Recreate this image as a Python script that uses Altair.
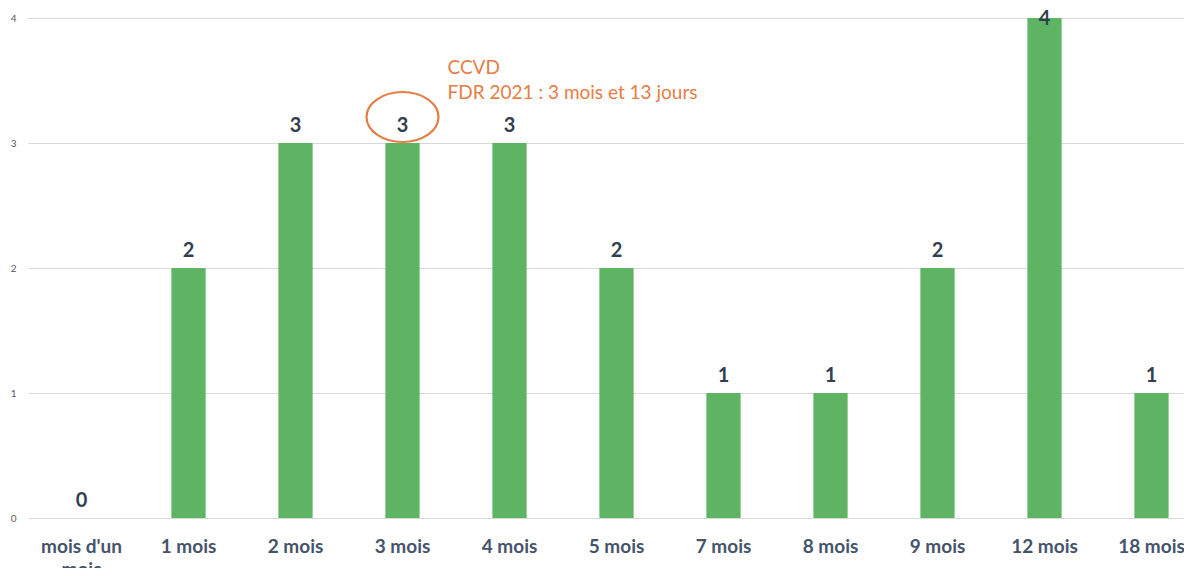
import altair as alt
import pandas as pd

categories = ["mois d'un mois", "1 mois", "2 mois", "3 mois", "4 mois", "5 mois",
              "7 mois", "8 mois", "9 mois", "12 mois", "18 mois"]
counts = [0, 2, 3, 3, 3, 2, 1, 1, 2, 4, 1]

note_category = ["3 mois"]
note_value = [3]
note_lines = ["CCVD", "FDR 2021 : 3 mois et 13 jours"]

df = pd.DataFrame({"cat": categories, "n": counts})
note_df = pd.DataFrame({"cat": note_category, "n": note_value})

GREEN = "#5fb463"
ORANGE = "#e57d45"
FONT = "Lato"
YMAX = 4

x_enc = alt.X(
    "cat:N", sort=categories, title=None,
    scale=alt.Scale(range=[0, 1177], paddingInner=0.68, paddingOuter=0.34),
    axis=alt.Axis(
        labelAngle=0, ticks=False, domain=False, grid=False,
        labelFont=FONT, labelFontSize=19, labelFontWeight="bold",
        labelColor="#44546a", labelPadding=19, labelLineHeight=23,
        labelExpr="datum.value == \"mois d'un mois\" ? [\"mois d'un\", \"mois\"] : datum.label",
    ),
)
y_scale = alt.Scale(domain=[0, YMAX], nice=False)
y_enc = alt.Y(
    "n:Q", title=None, scale=y_scale,
    axis=alt.Axis(
        values=[0, 1, 2, 3, 4], format="d", ticks=False, domain=False, grid=True,
        gridColor="#d9d9d9", gridWidth=1,
        labelFont=FONT, labelFontSize=10, labelColor="#595959", labelPadding=12,
    ),
)

bars = alt.Chart(df).mark_bar(color=GREEN).encode(x=x_enc, y=y_enc)

labels = alt.Chart(df).transform_calculate(
    ly=f"datum.n >= {YMAX} ? datum.n - 0.14 : datum.n"
).mark_text(
    font=FONT, fontSize=20, fontWeight="bold", color="#333f50",
    baseline="bottom", dy=-7,
).encode(
    x=alt.X("cat:N", sort=categories),
    y=alt.Y("ly:Q", scale=y_scale),
    text=alt.Text("n:Q"),
)

ellipse = alt.Chart(note_df).mark_point(
    shape="M -1.44 0 A 1.44 1 0 1 0 1.44 0 A 1.44 1 0 1 0 -1.44 0 Z",
    size=2500, filled=False, stroke=ORANGE, strokeWidth=2.2, opacity=1,
).encode(
    x=alt.X("cat:N", sort=categories),
    y=alt.Y("n:Q", scale=y_scale),
    yOffset=alt.value(-26),
)

note = alt.Chart(note_df).mark_text(
    font=FONT, fontSize=19, color=ORANGE, align="left", baseline="bottom",
    dx=45, dy=-65, lineHeight=25,
).encode(
    x=alt.X("cat:N", sort=categories),
    y=alt.Y("n:Q", scale=y_scale),
    text=alt.value(note_lines),
)

chart = alt.layer(bars, labels, ellipse, note).properties(
    width=1156, height=500,
    autosize=alt.AutoSizeParams(type="none"),
    padding={"left": 20, "top": 10, "right": 0, "bottom": 50},
    background="white",
).configure_view(stroke=None)

chart.save("out.html", embed_options={"renderer": "svg", "actions": False})
